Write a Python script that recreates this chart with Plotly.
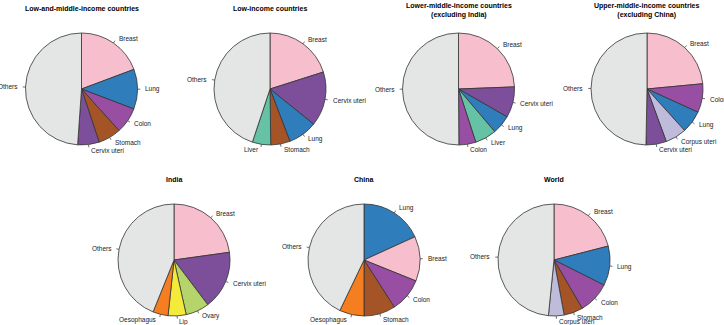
import numpy as np
import plotly.graph_objects as go

W, H = 724, 325

COLORS = {
    "Others": "#e4e5e5", "Breast": "#f7bfcd", "Lung": "#2f7dbb", "Colon": "#984ea3",
    "Stomach": "#a55427", "Cervix uteri": "#7d4f9b", "Liver": "#66c2a5",
    "Corpus uteri": "#bfbbdb", "Ovary": "#b5d56a", "Lip": "#f4ea3a", "Oesophagus": "#f57f20",
}

titles = [
    "Low-and-middle-income countries", "Low-income countries",
    "Lower-middle-income countries<br>(excluding India)",
    "Upper-middle-income countries<br>(excluding China)",
    "India", "China", "World",
]
labels_lmic = ["Breast", "Lung", "Colon", "Stomach", "Cervix uteri", "Others"]
values_lmic = [19.3, 11.5, 7.5, 6.6, 6.2, 48.9]
labels_lic = ["Breast", "Cervix uteri", "Lung", "Stomach", "Liver", "Others"]
values_lic = [20.1, 15.7, 8.4, 5.6, 5.3, 44.9]
labels_lmic_x = ["Breast", "Cervix uteri", "Lung", "Liver", "Colon", "Others"]
values_lmic_x = [24.4, 8.9, 5.5, 6.2, 4.9, 50.1]
labels_umic_x = ["Breast", "Colon", "Lung", "Corpus uteri", "Cervix uteri", "Others"]
values_umic_x = [23.5, 8.3, 6.5, 6.1, 5.9, 49.7]
labels_india = ["Breast", "Cervix uteri", "Ovary", "Lip", "Oesophagus", "Others"]
values_india = [22.8, 16.9, 6.8, 5.2, 4.4, 43.9]
labels_china = ["Lung", "Breast", "Colon", "Stomach", "Oesophagus", "Others"]
values_china = [18.2, 12.9, 9.8, 9.1, 7.1, 42.9]
labels_world = ["Breast", "Lung", "Colon", "Stomach", "Corpus uteri", "Others"]
values_world = [21.0, 11.4, 9.2, 5.5, 4.5, 48.4]

all_labels = [labels_lmic, labels_lic, labels_lmic_x, labels_umic_x,
              labels_india, labels_china, labels_world]
all_values = [values_lmic, values_lic, values_lmic_x, values_umic_x,
              values_india, values_china, values_world]

# layout (pixels): centres, radius, title y
centers = [(81.5, 89), (270, 89), (458.5, 89), (647, 89),
           (174, 260), (364, 260), (554, 260)]
R = 56
title_y = [9, 9, 10, 10, 179, 179, 179]

fig = go.Figure()
annotations = []
shapes = []
for labs, vals, (cx, cy), ttl, ty in zip(all_labels, all_values, centers, titles, title_y):
    fig.add_trace(go.Pie(
        labels=labs, values=vals, sort=False, direction="clockwise", rotation=0,
        textinfo="none", hoverinfo="label+percent", showlegend=False,
        marker=dict(colors=[COLORS[l] for l in labs], line=dict(color="#333333", width=0.8)),
        domain=dict(x=[(cx - R) / W, (cx + R) / W], y=[1 - (cy + R) / H, 1 - (cy - R) / H]),
    ))
    v = np.array(vals, dtype=float)
    cum = np.cumsum(v) / v.sum()
    mids = (cum - v / v.sum() / 2) * 2 * np.pi
    for lab, th in zip(labs, mids):
        sx, sy = np.sin(th), np.cos(th)
        x0, y0 = cx + R * sx, cy - R * sy
        x1, y1 = cx + 1.05 * R * sx, cy - 1.05 * R * sy
        xt, yt = cx + 1.1 * R * sx, cy - 1.1 * R * sy
        shapes.append(dict(type="line", xref="paper", yref="paper",
                           x0=x0 / W, y0=1 - y0 / H, x1=x1 / W, y1=1 - y1 / H,
                           line=dict(color="#333333", width=0.7)))
        annotations.append(dict(
            text=lab, x=xt / W, y=1 - yt / H, xref="paper", yref="paper",
            showarrow=False, xanchor="left" if sx > 0 else "right", yanchor="middle",
            font=dict(size=6.5, color="#222222", family="Liberation Sans, Arial"),
        ))
    annotations.append(dict(
        text="<b>" + ttl + "</b>", x=cx / W, y=1 - ty / H, xref="paper", yref="paper",
        showarrow=False, xanchor="center", yanchor="middle",
        font=dict(size=7, color="#000000", family="Liberation Sans, Arial"),
    ))

fig.update_layout(
    width=W, height=H, margin=dict(l=0, r=0, t=0, b=0),
    paper_bgcolor="white", plot_bgcolor="white",
    annotations=annotations, shapes=shapes,
)
fig.write_html("out.html")
